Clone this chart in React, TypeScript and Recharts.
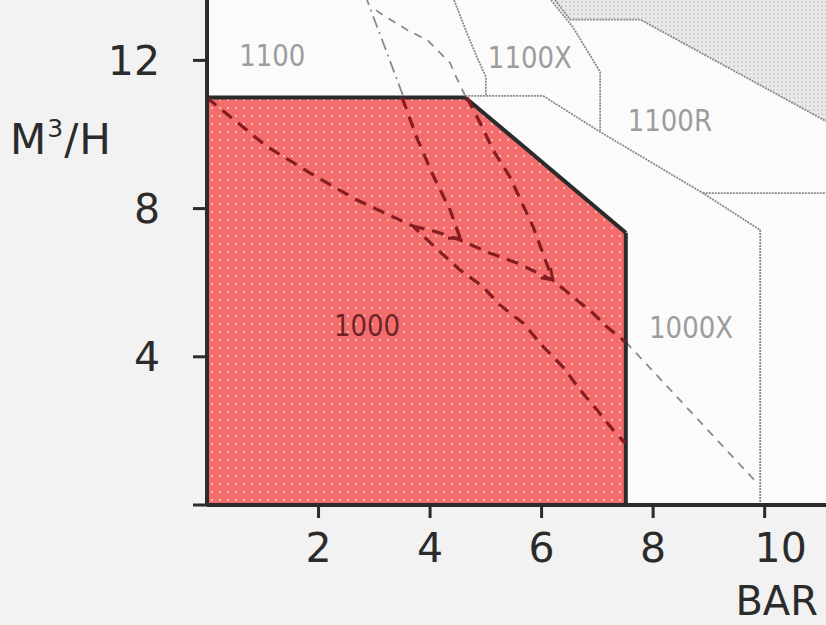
import React from 'react';
import { ComposedChart, Area, Line, Scatter, XAxis, YAxis, CartesianGrid, Label } from 'recharts';

const xTicks = [2, 4, 6, 8, 10];
const yTicks = [0, 4, 8, 12];
const xAxisTitle = 'BAR';
const yAxisTitleMain = 'M';
const yAxisTitleSup = '3';
const yAxisTitleTail = '/H';

// operating region "1000" (filled)
const region1000 = [
  { x: 0, y: 11 },
  { x: 4.63, y: 11 },
  { x: 7.51, y: 7.35 },
];
const region1000Edge = [
  { x: 7.51, y: 7.35 },
  { x: 7.51, y: 0 },
];
// shaded region top right
const shadedRegion = [
  { x: 6.24, y: 13.63 },
  { x: 6.51, y: 13.1 },
  { x: 7.77, y: 13.1 },
  { x: 11.1, y: 10.36 },
];
// dashed performance curves
const curveLower = [
  { x: 0, y: 10.99 },
  { x: 1.08, y: 9.67 },
  { x: 1.85, y: 8.96 },
  { x: 2.69, y: 8.23 },
  { x: 3.69, y: 7.53 },
  { x: 4.18, y: 6.83 },
  { x: 4.54, y: 6.34 },
  { x: 4.95, y: 5.89 },
  { x: 5.25, y: 5.4 },
  { x: 5.67, y: 4.91 },
  { x: 6.03, y: 4.27 },
  { x: 6.38, y: 3.73 },
  { x: 6.69, y: 3.11 },
  { x: 6.99, y: 2.57 },
  { x: 7.28, y: 2.03 },
  { x: 7.5, y: 1.67 },
];
const curveUpper = [
  { x: 3.69, y: 7.53 },
  { x: 4.12, y: 7.37 },
  { x: 4.54, y: 7.15 },
  { x: 5.07, y: 6.8 },
  { x: 5.56, y: 6.53 },
  { x: 6.2, y: 6.07 },
  { x: 6.56, y: 5.62 },
  { x: 6.92, y: 5.18 },
  { x: 7.17, y: 4.81 },
  { x: 7.5, y: 4.4 },
];
const curveUpperOutside = [
  { x: 7.51, y: 4.4 },
  { x: 9.86, y: 0.6 },
];
const steepCurveA = [
  { x: 3.5, y: 10.99 },
  { x: 3.78, y: 9.85 },
  { x: 4.05, y: 8.91 },
  { x: 4.36, y: 7.96 },
  { x: 4.54, y: 7.2 },
];
const steepCurveAOutside = [
  { x: 3.51, y: 11.07 },
  { x: 2.87, y: 13.63 },
];
const steepCurveB = [
  { x: 4.66, y: 11.0 },
  { x: 4.9, y: 10.31 },
  { x: 5.13, y: 9.58 },
  { x: 5.43, y: 8.86 },
  { x: 5.85, y: 7.5 },
  { x: 6.2, y: 6.07 },
];
const steepCurveBOutside = [
  { x: 4.63, y: 11.04 },
  { x: 4.45, y: 11.61 },
  { x: 4.36, y: 11.93 },
  { x: 4.18, y: 12.2 },
  { x: 3.95, y: 12.55 },
  { x: 3.59, y: 12.82 },
  { x: 3.1, y: 13.28 },
  { x: 2.96, y: 13.44 },
];
// thin boundaries of the other models
const border1100X = [
  { x: 4.43, y: 13.63 },
  { x: 4.66, y: 12.74 },
  { x: 4.84, y: 12.09 },
  { x: 5.0, y: 11.56 },
  { x: 5.0, y: 11.04 },
];
const border1100XR = [
  { x: 6.17, y: 13.63 },
  { x: 6.56, y: 12.9 },
  { x: 7.05, y: 11.69 },
  { x: 7.05, y: 10.07 },
];
const border1100R = [
  { x: 4.63, y: 11.04 },
  { x: 6.03, y: 11.04 },
  { x: 7.05, y: 10.07 },
  { x: 8.89, y: 8.42 },
  { x: 9.92, y: 7.42 },
  { x: 9.92, y: 0 },
];
const border1000X = [
  { x: 8.89, y: 8.42 },
  { x: 11.1, y: 8.42 },
];
const greyLabels = [
  { x: 1.17, y: 12.15, name: '1100' },
  { x: 5.79, y: 12.1, name: '1100X' },
  { x: 8.3, y: 10.4, name: '1100R' },
  { x: 8.68, y: 4.8, name: '1000X' },
];
const redLabels = [{ x: 2.87, y: 4.85, name: '1000' }];

const FONT = "'DejaVu Sans', sans-serif";
const DARK = '#2b2b2b';
const DASHRED = '#861c22';
const GREY = '#8a8a8a';

const XTick = (props: any) => {
  const { x, y, payload } = props;
  const v = payload.value;
  return (
    <text x={v === 10 ? x + 16 : x} y={y} dy="0.71em" textAnchor="middle" fontFamily={FONT} fontSize={41} fill={DARK}>
      {v}
    </text>
  );
};

const YTick = (props: any) => {
  const { x, y, payload } = props;
  if (payload.value === 0) return <g />;
  return (
    <text x={x} y={y} dy="0.355em" textAnchor="end" fontFamily={FONT} fontSize={41} fill={DARK}>
      {payload.value}
    </text>
  );
};

const XTitle = (props: any) => {
  const vb = props.viewBox || { x: 207, y: 505, width: 619, height: 120 };
  return (
    <text x={vb.x + vb.width - 8} y={vb.y + 110} textAnchor="end" fontFamily={FONT} fontSize={40} fill={DARK}>
      {xAxisTitle}
    </text>
  );
};

const YTitle = (props: any) => {
  const vb = props.viewBox || { x: 0, y: 0, width: 207, height: 505 };
  return (
    <text x={vb.x + 10} y={vb.y + 154} fontFamily={FONT} fontSize={42} fill={DARK} letterSpacing={1}>
      {yAxisTitleMain}
      <tspan dy={-17} fontSize={25}>{yAxisTitleSup}</tspan>
      <tspan dy={17}>{yAxisTitleTail}</tspan>
    </text>
  );
};

const makeArrow = (count: number, angle: number) => (props: any) => {
  const { cx, cy, index } = props;
  if (index !== count - 1 || cx == null) return <g key={`a${index}`} />;
  return (
    <path
      key={`a${index}`}
      d="M -10 -7 L 0 0 L -10 7"
      transform={`translate(${cx},${cy}) rotate(${angle})`}
      stroke={DASHRED}
      strokeWidth={2.8}
      fill="none"
    />
  );
};

const condensedText = (cx: number, cy: number, label: string, colour: string) => (
  <g transform={`translate(${cx},${cy}) scale(0.84,1)`}>
    <text x={0} y={0} dy="0.36em" textAnchor="middle" fontFamily={FONT} fontSize={31} fill={colour}>
      {label}
    </text>
  </g>
);

const greyLabelShape = (props: any) => condensedText(props.cx, props.cy, props.payload.name, '#9d9d9d');
const redLabelShape = (props: any) => condensedText(props.cx, props.cy, props.payload.name, '#6e2226');

export default function App() {
  return (
    <div style={{ position: 'absolute', left: 0, top: 0, width: 826, height: 625, background: '#f2f2f2' }}>
      <ComposedChart width={826} height={625} margin={{ top: 0, right: 0, bottom: 0, left: 0 }}>
        <defs>
          <pattern id="redDots" width="8" height="8" patternUnits="userSpaceOnUse">
            <rect width="8" height="8" fill="#f36d6d" />
            <circle cx="4" cy="4" r="0.9" fill="#ffffff" fillOpacity={0.75} />
          </pattern>
          <pattern id="greyDots" width="4" height="4" patternUnits="userSpaceOnUse">
            <rect width="4" height="4" fill="#e9e9e9" />
            <circle cx="2" cy="2" r="0.9" fill="#c9c9c9" />
          </pattern>
        </defs>
        <CartesianGrid horizontal={false} vertical={false} fill="#fbfbfb" />
        <XAxis
          type="number"
          dataKey="x"
          domain={[0, 11.1]}
          allowDataOverflow
          ticks={xTicks}
          height={120}
          tick={<XTick />}
          tickSize={13}
          tickMargin={15}
          axisLine={{ stroke: DARK, strokeWidth: 4 }}
          tickLine={{ stroke: DARK, strokeWidth: 3 }}
        >
          <Label content={<XTitle />} />
        </XAxis>
        <YAxis
          type="number"
          dataKey="y"
          domain={[0, 13.63]}
          allowDataOverflow
          ticks={yTicks}
          width={207}
          tick={<YTick />}
          tickSize={14}
          tickMargin={33}
          axisLine={{ stroke: DARK, strokeWidth: 4 }}
          tickLine={{ stroke: DARK, strokeWidth: 3 }}
        >
          <Label content={<YTitle />} />
        </YAxis>

        <Area
          data={shadedRegion}
          dataKey="y"
          type="linear"
          baseValue={13.63}
          fill="url(#greyDots)"
          fillOpacity={1}
          stroke={GREY}
          strokeWidth={1.8}
          strokeDasharray="2 1"
          isAnimationActive={false}
          dot={false}
          activeDot={false}
        />
        <Line data={border1100X} dataKey="y" type="linear" stroke={GREY} strokeWidth={1.8} strokeDasharray="2 1" dot={false} activeDot={false} isAnimationActive={false} />
        <Line data={border1100XR} dataKey="y" type="linear" stroke={GREY} strokeWidth={1.8} strokeDasharray="2 1" dot={false} activeDot={false} isAnimationActive={false} />
        <Line data={border1100R} dataKey="y" type="linear" stroke={GREY} strokeWidth={1.8} strokeDasharray="2 1" dot={false} activeDot={false} isAnimationActive={false} />
        <Line data={border1000X} dataKey="y" type="linear" stroke={GREY} strokeWidth={1.8} strokeDasharray="2 1" dot={false} activeDot={false} isAnimationActive={false} />
        <Line data={curveUpperOutside} dataKey="y" type="linear" stroke={GREY} strokeWidth={1.8} strokeDasharray="8 7" dot={false} activeDot={false} isAnimationActive={false} />
        <Line data={steepCurveAOutside} dataKey="y" type="linear" stroke={GREY} strokeWidth={1.8} strokeDasharray="12 5 2 5" dot={false} activeDot={false} isAnimationActive={false} />
        <Line data={steepCurveBOutside} dataKey="y" type="linear" stroke={GREY} strokeWidth={1.8} strokeDasharray="8 7" dot={false} activeDot={false} isAnimationActive={false} />

        <Area
          data={region1000}
          dataKey="y"
          type="linear"
          baseValue={0}
          fill="url(#redDots)"
          fillOpacity={1}
          stroke={DARK}
          strokeWidth={4}
          isAnimationActive={false}
          dot={false}
          activeDot={false}
        />
        <Line data={region1000Edge} dataKey="y" type="linear" stroke={DARK} strokeWidth={4} dot={false} activeDot={false} isAnimationActive={false} />

        <Line data={curveLower} dataKey="y" type="linear" stroke={DASHRED} strokeWidth={3.2} strokeDasharray="12 8" dot={false} activeDot={false} isAnimationActive={false} />
        <Line data={curveUpper} dataKey="y" type="linear" stroke={DASHRED} strokeWidth={3.2} strokeDasharray="12 8" dot={false} activeDot={false} isAnimationActive={false} />
        <Line data={steepCurveA} dataKey="y" type="linear" stroke={DASHRED} strokeWidth={3.2} strokeDasharray="12 8" dot={makeArrow(steepCurveA.length, 35)} activeDot={false} isAnimationActive={false} />
        <Line data={steepCurveB} dataKey="y" type="linear" stroke={DASHRED} strokeWidth={3.2} strokeDasharray="12 8" dot={makeArrow(steepCurveB.length, 45)} activeDot={false} isAnimationActive={false} />

        <Scatter data={greyLabels} dataKey="y" shape={greyLabelShape} isAnimationActive={false} />
        <Scatter data={redLabels} dataKey="y" shape={redLabelShape} isAnimationActive={false} />
      </ComposedChart>
    </div>
  );
}
